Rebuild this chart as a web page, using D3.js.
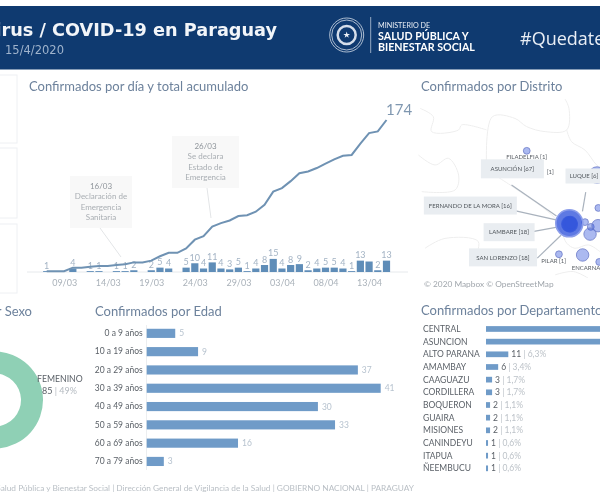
<!DOCTYPE html>
<html>
<head>
<meta charset="utf-8">
<script src="https://cdn.jsdelivr.net/npm/d3@7"></script>
<style>
    html, body { margin: 0; padding: 0; background: #fff; overflow: hidden; }
    svg { display: block; filter: blur(0.45px); }
    text { font-family: Lato, "Open Sans", sans-serif; }
</style>
</head>
<body>
<svg id="chart" width="600" height="504"></svg>
<script>
'use strict';

// Confirmed cases per day, 07/03 .. 15/04
const dayStart = new Date(2020, 2, 7);
const dailyCases = [1, 0, 0, 4, 0, 1, 1, 0, 1, 1, 2, 0, 2, 5, 4, 0, 5, 10, 4, 11, 4, 3, 5, 1, 4, 8, 15, 4, 8, 9, 2, 4, 5, 5, 4, 1, 13, 12, 2, 13];
const unlabeledDays = [37];
const tickDates = [new Date(2020, 2, 9), new Date(2020, 2, 14), new Date(2020, 2, 19), new Date(2020, 2, 24), new Date(2020, 2, 29), new Date(2020, 3, 3), new Date(2020, 3, 8), new Date(2020, 3, 13)];

const ageGroups = ["0 a 9 años", "10 a 19 años", "20 a 29 años", "30 a 39 años", "40 a 49 años", "50 a 59 años", "60 a 69 años", "70 a 79 años"];
const ageCases = [5, 9, 37, 41, 30, 33, 16, 3];

const departments = ["CENTRAL", "ASUNCION", "ALTO PARANA", "AMAMBAY", "CAAGUAZU", "CORDILLERA", "BOQUERON", "GUAIRA", "MISIONES", "CANINDEYU", "ITAPUA", "ÑEEMBUCU"];
const departmentCases = [75, 67, 11, 6, 3, 3, 2, 2, 2, 1, 1, 1];
const departmentShares = ["43,1%", "38,5%", "6,3%", "3,4%", "1,7%", "1,7%", "1,1%", "1,1%", "1,1%", "0,6%", "0,6%", "0,6%"];

const sexLabels = ["FEMENINO", "MASCULINO"];
const sexCases = [85, 89];
const sexShares = ["49%", "51%"];

// Map bubbles, positions estimated as lon/lat
const districtLon = [-60.06, -59.8, -56.0, -56.69, -56.36, -55.94, -56.4, -55.92, -56.83, -58.2, -55.87, -57.6, -57.62, -57.55, -57.56, -57.52];
const districtLat = [-22.28, -22.94, -23.29, -25.25, -25.45, -25.4, -25.75, -24.66, -26.62, -26.59, -26.91, -25.3, -25.33, -25.3, -25.36, -25.28];
const districtCases = [1, 1, 20, 1, 1, 9, 9, 1, 9, 1, 1, 67, 18, 16, 18, 6];
const clusterFrom = 11; // from here on the bubbles belong to Gran Asuncion

const placeNames = ["FILADELFIA [1]", "[1]", "PILAR [1]", "ENCARNACIÓN [4]"];
const placeLon = [-60.06, -58.7, -58.5, -55.95];
const placeLat = [-22.62, -23.25, -26.94, -27.25];

const calloutNames = ["ASUNCIÓN [67]", "LUQUE [6]", "FERNANDO DE LA MORA [16]", "LAMBARE [18]", "SAN LORENZO [18]"];
const calloutLon = [-60.89, -56.75, -63.32, -61.08, -61.43];
const calloutLat = [-23.03, -23.33, -24.56, -25.67, -26.72];
const calloutWidth = [63, 37, 93, 51, 68];
const calloutHeight = [19, 15, 18, 18, 18];
const calloutLineFromLon = [-60.94, -56.65, -60.89, -59.8, -59.45];
const calloutLineFromLat = [-23.7, -24.0, -24.75, -25.66, -26.75];
const calloutLineToLon = [-58.34, -56.84, -58.3, -58.3, -58.08];
const calloutLineToLat = [-25.0, -24.8, -25.17, -25.46, -25.8];

const borderLines = [
    [[-62.38, -23.08], [-62.05, -20.86], [-60.74, -20.93], [-60.07, -21.27], [-59.0, -21.48], [-57.75, -21.41], [-57.62, -20.51], [-57.85, -20.12]],
    [[-57.75, -21.41], [-57.47, -21.9], [-56.69, -22.25], [-56.02, -22.87], [-55.4, -23.2]],
    [[-62.38, -23.08], [-60.74, -23.84], [-58.43, -25.09], [-58.04, -25.65], [-57.75, -26.13], [-57.27, -26.34], [-56.5, -26.2], [-55.83, -26.48]],
    [[-66.23, -20.51], [-65.46, -20.86], [-65.56, -21.48], [-64.0, -21.41], [-63.82, -21.2], [-62.38, -21.41]],
    [[-66.33, -22.45], [-65.36, -22.87], [-64.59, -22.59], [-64.0, -23.29], [-64.2, -23.91], [-66.13, -23.98]],
    [[-65.94, -26.34], [-64.79, -25.93], [-62.86, -26.06], [-63.15, -26.9]],
    [[-58.43, -27.45], [-57.37, -27.31], [-56.5, -27.59]]
];

const annotationDates = ["16/03", "26/03"];
const annotationLines = [["Declaración de", "Emergencia", "Sanitaria"], ["Se declara", "Estado de", "Emergencia"]];

const colors = {
    title: "#6d829c",
    bar: "#6f9bc8",
    dayBar: "#5f8db8",
    line: "#6f92b3",
    soft: "#aab4bf",
    ink: "#5b6168",
    band: "#0f3a70"
};

const svg = d3.select("#chart");

function panelTitle(label, x, y, anchor){
    svg.append("text").attr("x", x).attr("y", y).attr("text-anchor", anchor || "start")
        .attr("font-size", 13).attr("fill", colors.title).text(label);
}

// --- header
svg.append("rect").attr("x", 0).attr("y", 6).attr("width", 600).attr("height", 63.5).attr("fill", colors.band);
svg.append("text").attr("x", 277).attr("y", 36).attr("text-anchor", "end")
    .style("font-family", "'DejaVu Sans'").attr("font-weight", "bold").attr("font-size", 17.7).attr("fill", "#f2f5f9")
    .text("Coronavirus / COVID-19 en Paraguay");
svg.append("text").attr("x", 5).attr("y", 54).attr("font-size", 11.5)
    .style("font-family", "'DejaVu Sans'").attr("fill", "#9fb3cc")
    .text("15/4/2020");

const seal = svg.append("g").attr("transform", "translate(346.7,35)");
[17, 15, 9].forEach(r => {
    seal.append("circle").attr("r", r).attr("fill", "none").attr("stroke", "#d5deea").attr("stroke-width", r === 9 ? 2.5 : 0.8);
});
seal.append("path").attr("d", d3.symbol(d3.symbolStar, 14)()).attr("fill", "#eef2f7");

svg.append("line").attr("x1", 370.7).attr("x2", 370.7).attr("y1", 17).attr("y2", 53).attr("stroke", "#b9c6d8").attr("stroke-width", 0.8);
svg.append("text").attr("x", 378).attr("y", 28).attr("font-size", 7.2).attr("fill", "#e8edf4").text("MINISTERIO DE");
svg.append("text").attr("x", 378).attr("y", 40).attr("font-size", 10.7).attr("font-weight", "bold").attr("fill", "#fff").text("SALUD PÚBLICA Y");
svg.append("text").attr("x", 378).attr("y", 51).attr("font-size", 10.7).attr("font-weight", "bold").attr("fill", "#fff").text("BIENESTAR SOCIAL");
svg.append("text").attr("x", 520).attr("y", 45).attr("font-size", 18).style("font-family", "'Open Sans'").attr("fill", "#e9eef5").text("#QuedateEnCasa");

// --- empty cards on the left
[[75, 143], [148, 218], [224, 293]].forEach(c => {
    svg.append("rect").attr("x", -2).attr("y", c[0]).attr("width", 19).attr("height", c[1] - c[0])
        .attr("fill", "#fff").attr("stroke", "#eef0f3");
});

// --- daily + cumulative
panelTitle("Confirmados por día y total acumulado", 29, 90.5);

const dayEnd = d3.timeDay.offset(dayStart, dailyCases.length - 1);
const xDay = d3.scaleTime().domain([dayStart, dayEnd]).range([46.7, 386.5]);
const yCases = d3.scaleLinear().domain([0, d3.sum(dailyCases)]).range([272, 120]);
const days = dailyCases.map((v, i) => ({ date: d3.timeDay.offset(dayStart, i), value: v, index: i }));
const cumulative = Array.from(d3.cumsum(dailyCases));

svg.append("line").attr("x1", 27).attr("x2", 408).attr("y1", yCases(0)).attr("y2", yCases(0)).attr("stroke", "#e6e9ec");

svg.append("g").selectAll("rect").data(days.filter(d => d.value > 0)).join("rect")
    .attr("x", d => xDay(d.date) - 3.6)
    .attr("width", 7.2)
    .attr("y", d => yCases(d.value))
    .attr("height", d => yCases(0) - yCases(d.value))
    .attr("fill", colors.dayBar);

svg.append("g").selectAll("text").data(days.filter(d => d.value > 0 && !unlabeledDays.includes(d.index))).join("text")
    .attr("x", d => xDay(d.date))
    .attr("y", d => yCases(d.value) - 2.5)
    .attr("text-anchor", "middle").attr("font-size", 9).attr("fill", "#a3b3c4")
    .text(d => d.value);

svg.append("path")
    .attr("d", d3.line().x((d, i) => xDay(days[i].date)).y(d => yCases(d))(cumulative))
    .attr("fill", "none").attr("stroke", colors.line).attr("stroke-width", 2);

svg.append("text").attr("x", 386).attr("y", 115).attr("font-size", 15).attr("fill", "#7f97b0").text(cumulative[cumulative.length - 1]);

const dayAxis = d3.axisBottom(xDay).tickValues(tickDates).tickFormat(d3.timeFormat("%d/%m")).tickSize(0);
const dayAxisG = svg.append("g").attr("transform", "translate(0,277)").call(dayAxis);
dayAxisG.select(".domain").remove();
dayAxisG.selectAll("text").attr("font-size", 9).attr("fill", "#aab2ba").style("font-family", "Lato");

// annotations
const annoX = [70, 172];
const annoY = [176, 136];
const annoW = [62, 67];
const annoLink = [[100, 228, 121, 257], [207, 188, 211, 218]];
annotationDates.forEach((date, i) => {
    svg.append("line").attr("x1", annoLink[i][0]).attr("y1", annoLink[i][1]).attr("x2", annoLink[i][2]).attr("y2", annoLink[i][3])
        .attr("stroke", "#e3e5e7");
    svg.append("rect").attr("x", annoX[i]).attr("y", annoY[i]).attr("width", annoW[i]).attr("height", 52).attr("fill", "#f8f8f8");
    const cx = annoX[i] + annoW[i] / 2;
    [date].concat(annotationLines[i]).forEach((txt, j) => {
        svg.append("text").attr("x", cx).attr("y", annoY[i] + 13 + j * 10.4)
            .attr("text-anchor", "middle").attr("font-size", 8).attr("fill", j === 0 ? "#8f959b" : "#a9aeb3").text(txt);
    });
});

// --- map
panelTitle("Confirmados por Distrito", 421, 90.5);

const mapX = d3.scaleLinear().domain([-57.6, -47.6]).range([569.3, 742.3]);
const mapY = d3.scaleLinear().domain([-25.3, -15.3]).range([223.3, -16.7]);
const mapLine = d3.line().x(d => mapX(d[0])).y(d => mapY(d[1])).curve(d3.curveCatmullRom);

const mapClip = svg.append("defs").append("clipPath").attr("id", "map_clip");
mapClip.append("rect").attr("x", 418).attr("y", 98).attr("width", 182).attr("height", 180);

const mapG = svg.append("g").attr("clip-path", "url(#map_clip)");
mapG.append("g").selectAll("path").data(borderLines).join("path")
    .attr("d", mapLine).attr("fill", "none").attr("stroke", "#eeeeee").attr("stroke-width", 1);

const rBubble = d3.scaleSqrt().domain([0, 67]).range([2, 13.5]);
const bubbles = districtCases.map((v, i) => ({ value: v, lon: districtLon[i], lat: districtLat[i], cluster: i >= clusterFrom }));

calloutNames.forEach((name, i) => {
    mapG.append("line")
        .attr("x1", mapX(calloutLineFromLon[i])).attr("y1", mapY(calloutLineFromLat[i]))
        .attr("x2", mapX(calloutLineToLon[i])).attr("y2", mapY(calloutLineToLat[i]))
        .attr("stroke", "#a9b2bd").attr("stroke-width", 1.2);
});

mapG.append("g").selectAll("circle").data(bubbles).join("circle")
    .attr("cx", d => mapX(d.lon))
    .attr("cy", d => mapY(d.lat))
    .attr("r", d => rBubble(d.value))
    .attr("fill", "#3657dc").attr("fill-opacity", d => d.cluster ? 0.8 : 0.42)
    .attr("stroke", d => d.value === 67 ? "#8c9eea" : (d.cluster ? "none" : "#6d7cc8"))
    .attr("stroke-width", d => d.value === 67 ? 1.6 : 0.8);

mapG.append("g").selectAll("text").data(placeNames).join("text")
    .attr("x", (d, i) => mapX(placeLon[i]))
    .attr("y", (d, i) => mapY(placeLat[i]))
    .attr("text-anchor", "middle").attr("font-size", 6).attr("fill", "#5c6167").text(d => d);

calloutNames.forEach((name, i) => {
    const cx = mapX(calloutLon[i]);
    const cy = mapY(calloutLat[i]);
    mapG.append("rect").attr("x", cx - calloutWidth[i] / 2).attr("y", cy - calloutHeight[i] / 2)
        .attr("width", calloutWidth[i]).attr("height", calloutHeight[i]).attr("fill", "#e9edf1");
    mapG.append("text").attr("x", cx).attr("y", cy + 2.2).attr("text-anchor", "middle")
        .attr("font-size", 6).attr("fill", "#50565c").text(name);
});

svg.append("text").attr("x", 424).attr("y", 287).attr("font-size", 8.3).attr("fill", "#a0a6ac").text("© 2020 Mapbox © OpenStreetMap");

// --- sex donut
panelTitle("Confirmados por Sexo", 32, 315.5, "end");

const pie = d3.pie().sort(null);
const arc = d3.arc().innerRadius(26.5).outerRadius(48.5);
svg.append("g").attr("transform", "translate(-5.5,400)")
    .selectAll("path").data(pie(sexCases)).join("path")
    .attr("d", arc)
    .attr("fill", (d, i) => i === 0 ? "#8fd0b5" : "#4e79a7");
svg.append("text").attr("x", 37).attr("y", 382).attr("font-size", 8.7).attr("fill", colors.ink).text(sexLabels[0]);
const sexValue = svg.append("text").attr("x", 42).attr("y", 394).attr("font-size", 9);
sexValue.append("tspan").attr("fill", colors.ink).text(sexCases[0]);
sexValue.append("tspan").attr("fill", "#b4bac0").text(" | " + sexShares[0]);

// --- age bars
panelTitle("Confirmados por Edad", 95, 315.5);

const xAge = d3.scaleLinear().domain([0, 41]).range([146.7, 380.7]);
const yAge = d3.scaleBand().domain(ageGroups).range([324.2, 470.6]).paddingInner(0.5).paddingOuter(0.25);

svg.append("line").attr("x1", 146.5).attr("x2", 146.5).attr("y1", 325).attr("y2", 470).attr("stroke", "#eceef0");

svg.append("g").selectAll("rect").data(ageCases).join("rect")
    .attr("x", xAge(0))
    .attr("y", (d, i) => yAge(ageGroups[i]))
    .attr("width", d => xAge(d) - xAge(0))
    .attr("height", yAge.bandwidth())
    .attr("fill", colors.bar);

svg.append("g").selectAll("text").data(ageCases).join("text")
    .attr("x", d => xAge(d) + 4)
    .attr("y", (d, i) => yAge(ageGroups[i]) + yAge.bandwidth() / 2 + 3)
    .attr("font-size", 8.5).attr("fill", "#b7c3cf").text(d => d);

const ageAxis = d3.axisLeft(yAge).tickSize(0).tickPadding(4);
const ageAxisG = svg.append("g").attr("transform", "translate(146.7,0)").call(ageAxis);
ageAxisG.select(".domain").remove();
ageAxisG.selectAll("text").attr("font-size", 8.5).attr("fill", colors.ink).style("font-family", "Lato");

// --- departments
panelTitle("Confirmados por Departamentos", 421, 315);

const xDept = d3.scaleLinear().domain([0, 11]).range([486, 508.3]);
const yDept = d3.scaleBand().domain(departments).range([322.7, 474.6]).paddingInner(0.55).paddingOuter(0.27);

svg.append("g").selectAll("rect").data(departmentCases).join("rect")
    .attr("x", xDept(0))
    .attr("y", (d, i) => yDept(departments[i]))
    .attr("width", d => xDept(d) - xDept(0))
    .attr("height", yDept.bandwidth())
    .attr("fill", colors.bar);

svg.append("g").selectAll("text").data(departments).join("text")
    .attr("x", 423)
    .attr("y", d => yDept(d) + yDept.bandwidth() / 2 + 3)
    .attr("font-size", 8.5).attr("fill", colors.ink).text(d => d);

const deptLabels = svg.append("g").selectAll("text").data(departmentCases).join("text")
    .attr("x", d => xDept(d) + 3)
    .attr("y", (d, i) => yDept(departments[i]) + yDept.bandwidth() / 2 + 3)
    .attr("font-size", 8.5);
deptLabels.append("tspan").attr("fill", colors.ink).text(d => d);
deptLabels.append("tspan").attr("fill", "#bcc2c8").text((d, i) => " | " + departmentShares[i]);

// --- footer
svg.append("text").attr("x", 414).attr("y", 491).attr("text-anchor", "end")
    .attr("font-size", 8.3).attr("fill", "#b9bfc5")
    .text("Ministerio de Salud Pública y Bienestar Social | Dirección General de Vigilancia de la Salud | GOBIERNO NACIONAL | PARAGUAY");
</script>
</body>
</html>
